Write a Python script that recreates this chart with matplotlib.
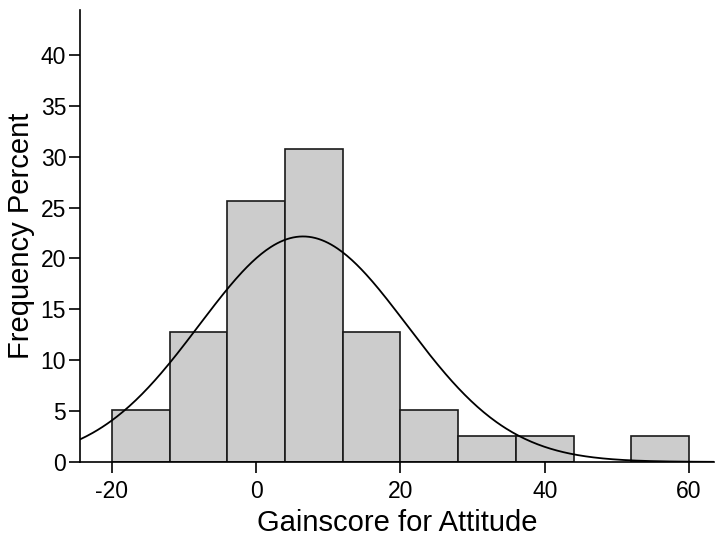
import numpy as np
import matplotlib
matplotlib.use("Agg")
import matplotlib.pyplot as plt

plt.rcParams['font.family'] = ['Liberation Sans', 'DejaVu Sans']
plt.rcParams['axes.unicode_minus'] = False

# histogram bins (left edges) and percentages
bin_left = [-20, -12, -4, 4, 12, 20, 28, 36, 44, 52]
bin_width = 8
percent = [5.13, 12.82, 25.64, 30.77, 12.82, 5.13, 2.56, 2.56, 0.0, 2.56]

# fitted normal curve
curve_mean = 6.5
curve_sd = 14.4

fig = plt.figure(figsize=(7.15, 5.39), dpi=100)
ax = fig.add_axes([0.112, 0.143, 0.887, 0.838])

bars = [(l, p) for l, p in zip(bin_left, percent) if p > 0]
ax.bar([b[0] for b in bars], [b[1] for b in bars], width=bin_width, align='edge',
       color='#cccccc', edgecolor='#1a1a1a', linewidth=1.2, zorder=2)

xs = np.linspace(-24.4, 63.5, 400)
ys = 100 * bin_width / (curve_sd * np.sqrt(2 * np.pi)) * np.exp(-0.5 * ((xs - curve_mean) / curve_sd) ** 2)
ax.plot(xs, ys, color='black', linewidth=1.3, zorder=3)

ax.set_xlim(-24.4, 63.5)
ax.set_ylim(0, 44.4)
ax.set_xticks([-20, 0, 20, 40, 60])
ax.set_yticks([0, 5, 10, 15, 20, 25, 30, 35, 40])
ax.spines['top'].set_visible(False)
ax.spines['right'].set_visible(False)
ax.spines['left'].set_linewidth(1.2)
ax.spines['bottom'].set_linewidth(1.2)
ax.tick_params(axis='both', labelsize=16.5, length=8, width=1.2, direction='out')
ax.tick_params(axis='y', pad=2)
ax.tick_params(axis='x', pad=5)

ax.set_xlabel('Gainscore for Attitude', fontsize=21, labelpad=4)
ax.set_ylabel('Frequency Percent', fontsize=21, labelpad=4)

fig.savefig('out.png', dpi=100)
